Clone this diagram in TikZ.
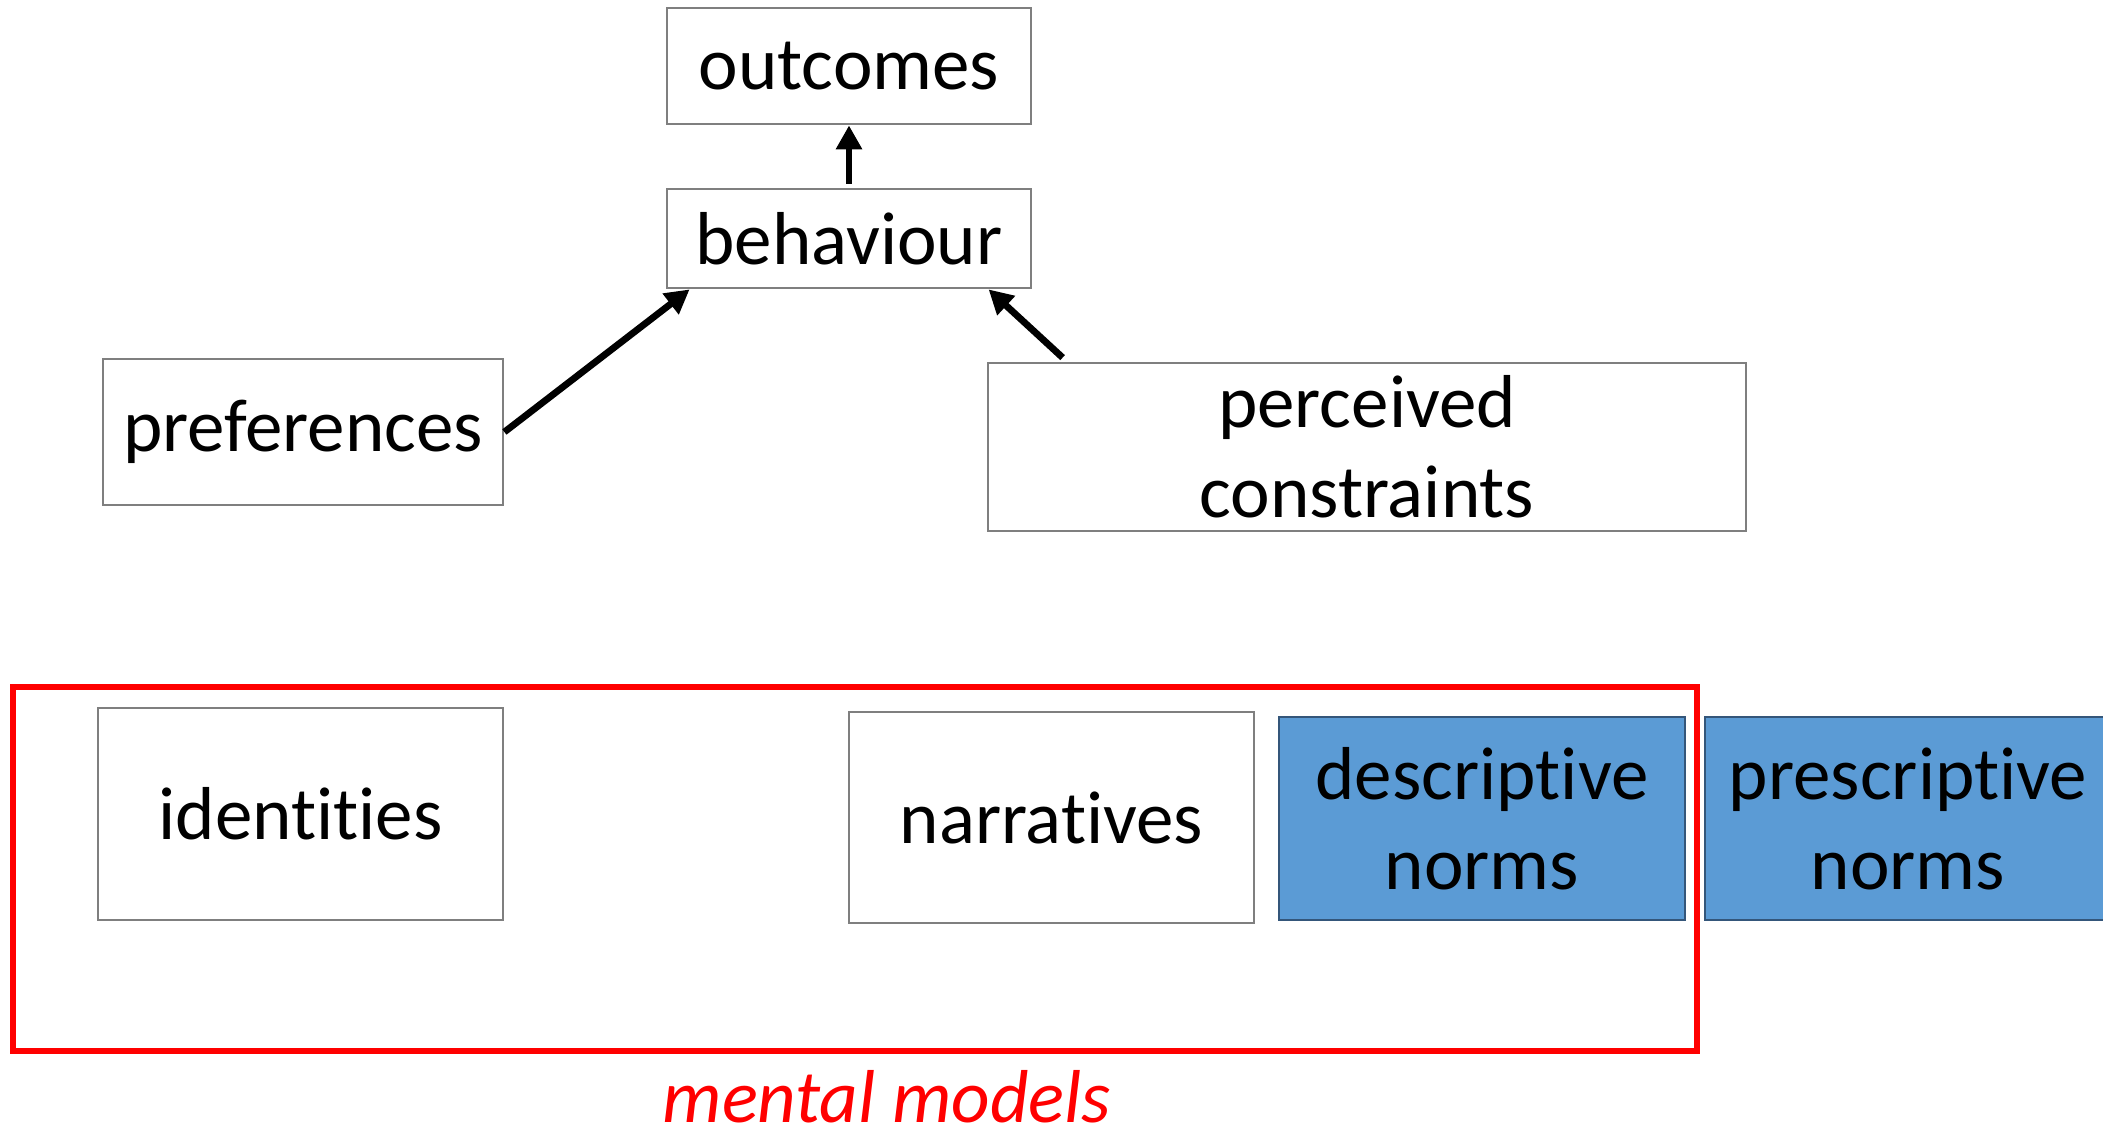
\documentclass[tikz,border=0pt]{standalone}
\usepackage{fontspec}
\setmainfont[Ligatures=NoCommon]{Carlito}
\usetikzlibrary{calc,arrows.meta}
\definecolor{boxgray}{HTML}{7F7F7F}
\definecolor{normblue}{HTML}{5B9BD5}
\definecolor{normedge}{HTML}{34567A}
\definecolor{mmred}{HTML}{FF0000}
\tikzset{
  box/.style={draw=boxgray, line width=1.4pt, fill=white, inner sep=0pt,
    align=center, font=\fontsize{37.5}{45}\selectfont},
  normbox/.style={box, draw=normedge, fill=normblue},
  arr/.style={line width=3.4pt, -{Triangle[length=12pt,width=12.5pt]}},
}
\begin{document}
\begin{tikzpicture}[x=0.5pt,y=-0.5pt]
\useasboundingbox (0,0) rectangle (2103,1131);
\node[box, minimum width=182pt, minimum height=58pt] (out) at (849,66) {outcomes};
\node[box, minimum width=182pt, minimum height=49.5pt] (beh) at (849,238.5) {behaviour};
\node[box, minimum width=200pt, minimum height=73pt] (pref) at (303,432) {preferences};
\node[box, minimum width=379pt, minimum height=84pt] (perc) at (1367,447) {perceived\\constraints};
\draw[mmred, line width=3.2pt] (13,687) rectangle (1697,1051);
\node[box, minimum width=202.5pt, minimum height=106pt] (ident) at (300.5,814) {identities};
\node[box, minimum width=202.5pt, minimum height=105.5pt] (narr) at (1051.5,817.5) {narratives};
\node[normbox, minimum width=203pt, minimum height=101.5pt] (desc) at (1482,818.5) {descriptive\\norms};
\node[normbox, minimum width=203pt, minimum height=101.5pt] (presc) at (1908,818.5) {prescriptive\\norms};
\node[text=mmred, inner sep=0pt, anchor=base, font=\fontsize{37.5}{45}\selectfont\itshape] (mm) at (887,1122) {mental models};
\draw[arr] ([yshift=2pt]beh.north) -- (out.south);
\draw[arr] (pref.east) -- ($(beh.south west)+(12pt,0)$);
\draw[arr] ($(perc.north west)+(38pt,2pt)$) -- ($(beh.south west)+(161.5pt,0)$);
\end{tikzpicture}
\end{document}
